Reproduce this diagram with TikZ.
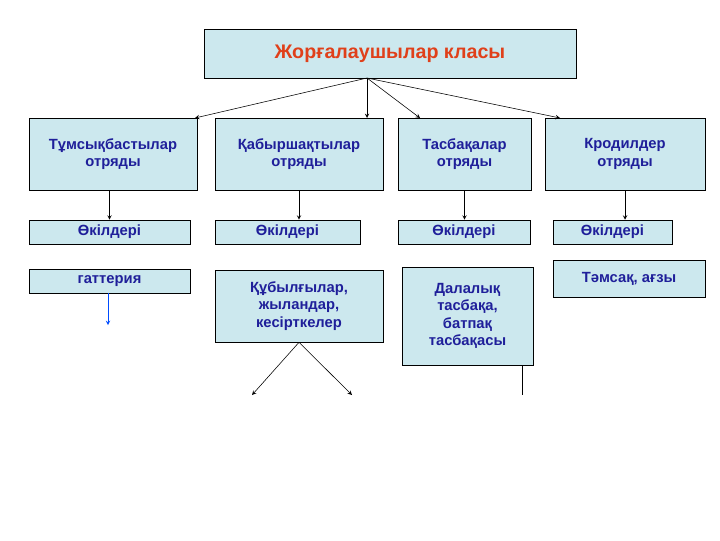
\documentclass[tikz,border=0pt]{standalone}
\usepackage{fontspec}
\setmainfont{Liberation Sans}
\usetikzlibrary{arrows, positioning}
\definecolor{boxfill}{HTML}{CCE8EE}
\definecolor{boxtext}{HTML}{1F1F9A}
\definecolor{titletext}{HTML}{E0401A}
\tikzset{
  box/.style={rectangle, draw, fill=boxfill, inner sep=0pt, align=center, font=\bfseries\fontsize{10.5}{12.5}\selectfont, text=boxtext},
  link/.style={->, >=stealth}
}
\begin{document}
\begin{tikzpicture}[x=0.025cm, y=-0.025cm]
\useasboundingbox (0,0) rectangle (720,540);
% class
\node[box, minimum width=9.3cm, minimum height=1.225cm, text=titletext, font=\bfseries\fontsize{14}{16}\selectfont] (class) at (390,53.5) {Жорғалаушылар класы};

% orders
\node[box, minimum width=4.2cm, minimum height=1.8cm] (ord1) at (113,154) {Тұмсықбастылар\\отряды};
\node[box, minimum width=4.2cm, minimum height=1.8cm] (ord2) at (299,154) {Қабыршақтылар\\отряды};
\node[box, minimum width=3.325cm, minimum height=1.8cm] (ord3) at (464.5,154) {Тасбақалар\\отряды};
\node[box, minimum width=4cm, minimum height=1.8cm] (ord4) at (625,154) {Кродилдер\\отряды};

% representatives
\node[box, minimum width=4.025cm, minimum height=0.6cm] (rep1) at (109.5,232) {Өкілдері};
\node[box, minimum width=3.625cm, minimum height=0.6cm] (rep2) at (287.5,232) {Өкілдері};
\node[box, minimum width=3.3cm, minimum height=0.6cm] (rep3) at (464,232) {Өкілдері};
\node[box, minimum width=2.975cm, minimum height=0.6cm] (rep4) at (612.5,232) {Өкілдері};

% examples
\node[box, minimum width=4.025cm, minimum height=0.6cm] (ex1) at (109.5,281) {гаттерия};
\node[box, minimum width=4.2cm, minimum height=1.8cm] (ex2) at (299,306) {Құбылғылар,\\жыландар,\\кесірткелер};
\node[box, minimum width=3.275cm, minimum height=2.45cm] (ex3) at (467.5,316) {Далалық\\тасбақа,\\батпақ\\тасбақасы};
\node[box, minimum width=3.8cm, minimum height=0.925cm] (ex4) at (629,278.5) {Тәмсақ, ағзы};

\coordinate (top) at (367,78);
\draw[link] (top) -- (195,118);
\draw[link] (top) -- (367,118);
\draw[link] (top) -- (420,118);
\draw[link] (top) -- (560,118);

\draw[link] (ord1.south -| rep1) -- (rep1);
\draw[link] (ord2.south) -- (rep2.north -| ord2);
\draw[link] (ord3.south) -- (rep3.north -| ord3);
\draw[link] (ord4.south) -- (ord4.south |- rep4.north);

\coordinate (end1) at (108,325);
\coordinate (end2a) at (252,395);
\coordinate (end2b) at (352,395);
\coordinate (end3) at (522,395);
\draw[link, draw=blue!70!cyan] (ex1.south -| end1) -- (end1);
\draw[link] (ex2.south) -- (end2a);
\draw[link] (ex2.south) -- (end2b);
\draw (ex3.south -| end3) -- (end3);
\end{tikzpicture}
\end{document}
